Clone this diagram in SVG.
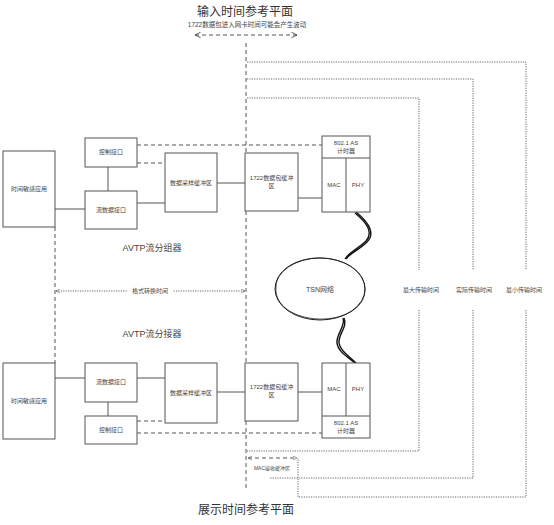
<svg xmlns="http://www.w3.org/2000/svg" width="554" height="525" viewBox="0 0 554 525">
<defs>
<style>
.box{fill:#fff;stroke:#555;stroke-width:1}
.ln{stroke:#555;stroke-width:1;fill:none}
.dash{stroke:#555;stroke-width:1;fill:none;stroke-dasharray:4 3}
.dot{stroke:#666;stroke-width:1;fill:none;stroke-dasharray:1.2 1.2}
.t{font-family:"Liberation Sans","Noto Sans CJK SC",sans-serif;fill:#444;text-anchor:middle;dominant-baseline:central}
.s{font-size:6px}
.m{font-size:9px}
.l{font-size:12px;fill:#333}
.wave{stroke:#111;stroke-width:1.4;fill:none}
</style>
<marker id="ah" viewBox="0 0 10 10" refX="9" refY="5" markerWidth="7" markerHeight="7" orient="auto-start-reverse" markerUnits="userSpaceOnUse"><path d="M1,1 L9,5 L1,9" fill="none" stroke="#444" stroke-width="1.2"/></marker>
<marker id="ahs" viewBox="0 0 10 10" refX="9" refY="5" markerWidth="5" markerHeight="5" orient="auto-start-reverse" markerUnits="userSpaceOnUse"><path d="M1,1 L9,5 L1,9" fill="none" stroke="#555" stroke-width="1.2"/></marker>
</defs>

<g id="connectors">
<line class="dash" x1="246" y1="43" x2="246" y2="490"/>
<line class="dash" x1="55" y1="227" x2="55" y2="363"/>
<line class="dash" x1="195" y1="35" x2="297" y2="35" marker-start="url(#ah)" marker-end="url(#ah)"/>
<line class="ln" x1="55" y1="209" x2="85" y2="209"/>
<line class="ln" x1="108" y1="167" x2="108" y2="191"/>
<line class="ln" x1="137" y1="203" x2="165" y2="203"/>
<line class="ln" x1="217" y1="183" x2="245" y2="183"/>
<line class="ln" x1="298" y1="198" x2="322" y2="198"/>
<line class="dash" x1="137" y1="163" x2="165" y2="163"/>
<line class="dash" x1="137" y1="145" x2="322" y2="145"/>
<line class="ln" x1="55" y1="378" x2="85" y2="378"/>
<line class="ln" x1="108" y1="402" x2="108" y2="416"/>
<line class="ln" x1="137" y1="378" x2="165" y2="378"/>
<line class="ln" x1="217" y1="392" x2="245" y2="392"/>
<line class="ln" x1="298" y1="392" x2="322" y2="392"/>
<line class="dash" x1="137" y1="421" x2="165" y2="421"/>
<line class="dash" x1="137" y1="433" x2="322" y2="433"/>
<line class="dot" x1="56" y1="291" x2="245" y2="291" marker-start="url(#ahs)" marker-end="url(#ahs)"/>
<polyline class="dot" points="247,62 526,62 526,270"/>
<polyline class="dot" points="526,310 526,497 298,497 298,458"/>
<polyline class="dot" points="247,79 473,79 473,270"/>
<polyline class="dot" points="473,310 473,478 270,478"/>
<polyline class="dot" points="247,98 419,98 419,270"/>
<polyline class="dot" points="419,310 419,451 247,451"/>
<line class="dash" x1="248" y1="458" x2="297" y2="458" stroke-dasharray="3 2" marker-start="url(#ahs)" marker-end="url(#ahs)"/>
<path class="wave" d="M355,213 C366,222 374,232 366,241 C358,249 349,252 345,259"/>
<path class="wave" d="M356,212 C368,222 376,233 367,242 C359,250 350,253 346,259" stroke-width="0.8"/>
<path class="wave" d="M343,318 C346,326 336,334 337,343 C338,352 348,357 355,363"/>
<path class="wave" d="M344,318 C348,327 338,334 339,343 C340,351 350,357 356,363" stroke-width="0.8"/>
</g>

<g id="title-top"><text class="t l" x="245" y="12">输入时间参考平面</text>
<text class="t" x="247" y="24" style="font-size:6.5px">1722数据包进入网卡时间可能会产生波动</text></g>

<g id="app-up"><rect class="box" x="3" y="151" width="52" height="76"/><text class="t s" x="29" y="189">时间敏感应用</text></g>
<g id="ctrl-up"><rect class="box" x="85" y="138" width="52" height="29"/><text class="t s" x="111" y="152">控制接口</text></g>
<g id="stream-up"><rect class="box" x="85" y="191" width="52" height="38"/><text class="t s" x="111" y="210">流数据接口</text></g>
<g id="sample-up"><rect class="box" x="165" y="153" width="52" height="59"/><text class="t s" x="191" y="183">数据采样缓冲区</text></g>
<g id="buf-up"><rect class="box" x="245" y="153" width="53" height="58"/><text class="t s" x="271.5" y="178">1722数据包缓冲</text><text class="t s" x="271.5" y="186">区</text></g>
<g id="nic-up"><rect class="box" x="322" y="136" width="48" height="76"/><line class="ln" x1="322" y1="158" x2="370" y2="158"/><line class="ln" x1="346" y1="158" x2="346" y2="212"/>
<text class="t s" x="346" y="143">802.1 AS</text><text class="t s" x="346" y="151">计时器</text><text class="t s" x="334" y="185">MAC</text><text class="t s" x="358" y="185">PHY</text></g>
<g id="lbl-pack"><text class="t m" x="152" y="248">AVTP流分组器</text></g>
<g id="lbl-fmt"><rect x="127" y="287" width="46" height="8" fill="#fff"/><text class="t s" x="150" y="291">格式转换时间</text></g>
<g id="lbl-unpack"><text class="t m" x="152" y="334">AVTP流分接器</text></g>

<g id="tsn"><ellipse cx="320" cy="289" rx="45" ry="31" fill="#fff" stroke="#222" stroke-width="1"/>
<path d="M276,287 C276,268 300,257 322,258 C346,259 366,272 365,291 C364,309 342,320 318,319 C295,318 274,306 276,287" fill="none" stroke="#222" stroke-width="0.8"/>
<text class="t s" x="320" y="289" style="font-size:7px">TSN网络</text></g>

<g id="lbl-max"><text class="t s" x="421" y="290">最大传输时间</text></g>
<g id="lbl-act"><text class="t s" x="474" y="290">实际传输时间</text></g>
<g id="lbl-min"><text class="t s" x="524" y="290">最小传输时间</text></g>

<g id="app-dn"><rect class="box" x="3" y="363" width="52" height="76"/><text class="t s" x="29" y="401">时间敏感应用</text></g>
<g id="stream-dn"><rect class="box" x="85" y="363" width="52" height="39"/><text class="t s" x="111" y="382">流数据接口</text></g>
<g id="ctrl-dn"><rect class="box" x="85" y="416" width="52" height="28"/><text class="t s" x="111" y="430">控制接口</text></g>
<g id="sample-dn"><rect class="box" x="165" y="363" width="52" height="60"/><text class="t s" x="191" y="393">数据采样缓冲区</text></g>
<g id="buf-dn"><rect class="box" x="245" y="363" width="53" height="58"/><text class="t s" x="271.5" y="387">1722数据包缓冲</text><text class="t s" x="271.5" y="395">区</text></g>
<g id="nic-dn"><rect class="box" x="322" y="363" width="48" height="75"/><line class="ln" x1="322" y1="416" x2="370" y2="416"/><line class="ln" x1="346" y1="363" x2="346" y2="416"/>
<text class="t s" x="334" y="389">MAC</text><text class="t s" x="358" y="389">PHY</text><text class="t s" x="346" y="423">802.1 AS</text><text class="t s" x="346" y="431">计时器</text></g>
<g id="lbl-mac"><text class="t" x="272" y="468" style="font-size:5px">MAC接收缓冲区</text></g>
<g id="title-bottom"><text class="t l" x="246" y="510">展示时间参考平面</text></g>
</svg>
